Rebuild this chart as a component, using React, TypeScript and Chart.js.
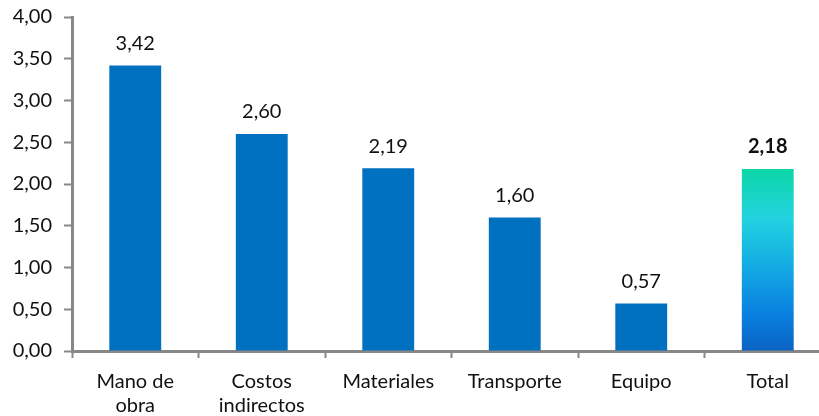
import React, { useEffect, useRef } from "react";
import { Chart, registerables } from "chart.js";

Chart.register(...registerables);

const categories: (string | string[])[] = [
  ["Mano de", "obra"],
  ["Costos", "indirectos"],
  "Materiales",
  "Transporte",
  "Equipo",
  "Total",
];
const values = [3.42, 2.6, 2.19, 1.6, 0.57, 2.18];
const yTicks = [0, 0.5, 1, 1.5, 2, 2.5, 3, 3.5, 4];

const FONT = "Lato, 'Open Sans', sans-serif";
const fmt = (v: number) => v.toFixed(2).replace(".", ",");

export default function App() {
  const ref = useRef<HTMLCanvasElement | null>(null);

  useEffect(() => {
    const canvas = ref.current;
    if (!canvas) return;

    const labelPlugin = {
      id: "valueLabels",
      afterDatasetsDraw(chart: any) {
        const ctx = chart.ctx;
        const meta = chart.getDatasetMeta(0);
        ctx.save();
        ctx.textAlign = "center";
        ctx.textBaseline = "middle";
        meta.data.forEach((bar: any, i: number) => {
          const last = i === values.length - 1;
          ctx.font = `${last ? "bold " : ""}20px ${FONT}`;
          ctx.fillStyle = "#111111";
          ctx.fillText(fmt(values[i]), bar.x, bar.y - 22);
        });
        ctx.restore();
      },
    };

    const chart = new Chart(canvas, {
      type: "bar",
      data: {
        labels: categories,
        datasets: [
          {
            data: values,
            backgroundColor: (c: any) => {
              const i = c.dataIndex;
              if (i !== values.length - 1) return "#0070C0";
              const area = c.chart.chartArea;
              if (!area) return "#0070C0";
              const yTop = c.chart.scales.y.getPixelForValue(values[i]);
              const yBot = c.chart.scales.y.getPixelForValue(0);
              const g = c.chart.ctx.createLinearGradient(0, yTop, 0, yBot);
              g.addColorStop(0, "#0cd6a6");
              g.addColorStop(0.27, "#22d3e0");
              g.addColorStop(0.55, "#12a8e2");
              g.addColorStop(0.8, "#0a80e0");
              g.addColorStop(1, "#0a62c2");
              return g;
            },
            borderWidth: 0,
            barPercentage: 0.41,
            categoryPercentage: 1,
          },
        ],
      },
      options: {
        animation: false,
        responsive: false,
        maintainAspectRatio: false,
        layout: { padding: { top: 17, right: 0, left: 0, bottom: 0 } },
        plugins: { legend: { display: false }, tooltip: { enabled: false } },
        scales: {
          x: {
            offset: true,
            grid: {
              display: true,
              offset: true,
              drawOnChartArea: false,
              drawTicks: true,
              tickLength: 7,
              tickWidth: 2,
              tickColor: "#888888",
            },
            border: { display: true, color: "#888888", width: 3 },
            ticks: {
              color: "#111111",
              font: { family: FONT, size: 20, lineHeight: 1.2 },
              padding: 12,
              maxRotation: 0,
              autoSkip: false,
            },
            afterFit: (s: any) => {
              s.height = 65;
              s.paddingLeft = 0;
              s.paddingRight = 0;
            },
          },
          y: {
            min: 0,
            max: 4,
            afterBuildTicks: (s: any) => {
              s.ticks = yTicks.map((v) => ({ value: v }));
            },
            grid: {
              display: true,
              drawOnChartArea: false,
              drawTicks: true,
              tickLength: 8,
              tickWidth: 2,
              tickColor: "#888888",
            },
            border: { display: true, color: "#888888", width: 3 },
            ticks: {
              color: "#111111",
              font: { family: FONT, size: 20 },
              padding: 12,
              callback: (v: any) => fmt(Number(v)),
            },
            afterFit: (s: any) => {
              s.width = 72;
              s.paddingTop = 0;
              s.paddingBottom = 0;
            },
          },
        },
      },
      plugins: [labelPlugin],
    } as any);

    return () => chart.destroy();
  }, []);

  return (
    <div
      style={{
        position: "fixed",
        left: 0,
        top: 0,
        width: 819,
        height: 416,
        overflow: "hidden",
        background: "#ffffff",
      }}
    >
      <canvas ref={ref} width={831} height={416} style={{ width: 831, height: 416, display: "block" }} />
    </div>
  );
}
